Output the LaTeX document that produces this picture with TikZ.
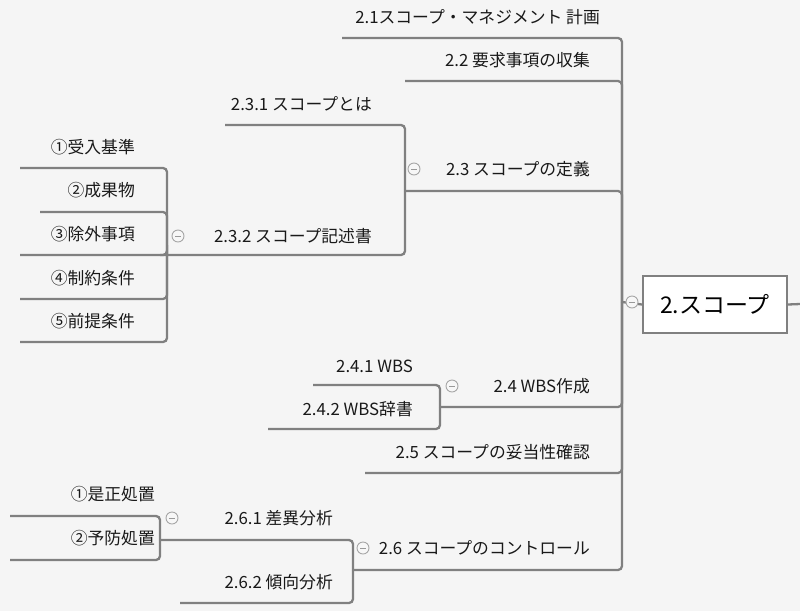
\documentclass[tikz,border=0pt]{standalone}
\usepackage{fontspec}
\setmainfont{Noto Sans CJK JP}
\begin{document}
\begin{tikzpicture}[x=1pt,y=-1pt,
  ln/.style={draw=black!50,line width=2.3pt,rounded corners=4pt},
  lbl/.style={anchor=east,inner sep=0pt,font=\fontsize{16.8}{19}\selectfont,text=black!90},
  tog/.style={circle,draw=black!35,fill=black!3,line width=0.9pt,minimum size=12pt,inner sep=0pt,
    path picture={\draw[black!40,line width=0.9pt](path picture bounding box.center)+(-3pt,0)--+(3pt,0);}}]
\fill[black!4] (0,0) rectangle (800,611);
\useasboundingbox (0,0) rectangle (800,611);
% root
\node[draw=black!50,line width=2pt,fill=white,minimum width=144pt,minimum height=57pt,inner sep=0pt,font=\fontsize{23}{26}\selectfont] (root) at (715,304.5) {2.スコープ};
\coordinate (rr) at (800,304);
\draw[ln] (root.east) -- (rr);
\coordinate (trunk) at (622,302);
\draw[ln] (root.west) -- (trunk);
% level 1 texts
\node[lbl] (n21) at (600,17) {2.1スコープ・マネジメント 計画};
\node[lbl] (n22) at (590,60) {2.2 要求事項の収集};
\node[lbl] (n23) at (590,169) {2.3 スコープの定義};
\node[lbl] (n24) at (590,386) {2.4 WBS作成};
\node[lbl] (n25) at (590,452) {2.5 スコープの妥当性確認};
\node[lbl] (n26) at (590,548) {2.6 スコープのコントロール};
\coordinate (a21) at (342,38);
\coordinate (a22) at (405,81);
\coordinate (a23) at (405,191);
\coordinate (a24) at (440,407);
\coordinate (a25) at (365,473);
\coordinate (a26) at (353,570);
\foreach \c in {a21,a22,a23}{\draw[ln] (\c) -| (trunk);}
\foreach \c in {a24,a25,a26}{\draw[ln] (\c) -| (trunk);}
% 2.3 children
\node[lbl] (n231) at (372,104) {2.3.1 スコープとは};
\node[lbl] (n232) at (372,236) {2.3.2 スコープ記述書};
\coordinate (a231) at (225,125);
\coordinate (a232) at (160,255);
\draw[ln] (a231) -| (a23);
\draw[ln] (a232) -| (a23);
% 2.3.2 children
\node[lbl] (c1) at (135,147) {①受入基準};
\node[lbl] (c2) at (135,190) {②成果物};
\node[lbl] (c3) at (135,234) {③除外事項};
\node[lbl] (c4) at (135,278) {④制約条件};
\node[lbl] (c5) at (135,321) {⑤前提条件};
\coordinate (b232) at (167,255);
\coordinate (u1) at (20,168);
\coordinate (u2) at (40,212);
\coordinate (u3) at (20,255);
\coordinate (u4) at (20,299);
\coordinate (u5) at (20,342);
\foreach \c in {u1,u2,u3,u4,u5}{\draw[ln] (\c) -| (b232);}
% 2.4 children
\node[lbl] (n241) at (413,366) {2.4.1 WBS};
\node[lbl] (n242) at (413,409) {2.4.2 WBS辞書};
\coordinate (a241) at (313,385);
\coordinate (a242) at (268,429);
\draw[ln] (a241) -| (a24);
\draw[ln] (a242) -| (a24);
% 2.6 children
\node[lbl] (n261) at (333,518) {2.6.1 差異分析};
\node[lbl] (n262) at (333,582) {2.6.2 傾向分析};
\coordinate (a261) at (160,540);
\coordinate (a262) at (180,603);
\draw[ln] (a261) -| (a26);
\draw[ln] (a262) -| (a26);
\node[lbl] (d1) at (155,494) {①是正処置};
\node[lbl] (d2) at (155,538) {②予防処置};
\coordinate (v1) at (10,516);
\coordinate (v2) at (10,560);
\draw[ln] (v1) -| (a261);
\draw[ln] (v2) -| (a261);
% toggles
\node[tog] (t0) at (632,302) {};
\node[tog] (t23) at (414,169) {};
\node[tog] (t232) at (178,236) {};
\node[tog] (t24) at (452,386) {};
\node[tog] (t261) at (172,518) {};
\node[tog] (t26) at (363,548) {};
\end{tikzpicture}
\end{document}
